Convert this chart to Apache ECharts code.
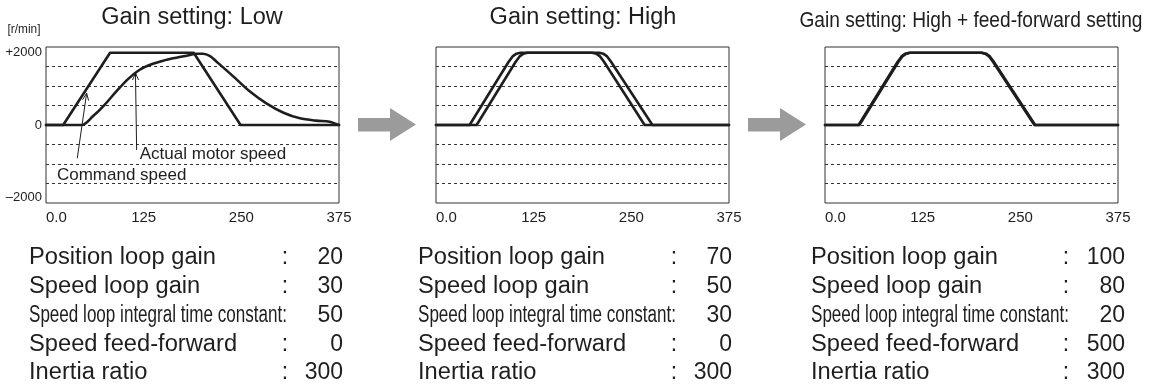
<!DOCTYPE html>
<html>
<head>
<meta charset="utf-8">
<script src="https://cdn.jsdelivr.net/npm/echarts@6.0.0/dist/echarts.min.js"></script>
<style>
  html, body { margin: 0; padding: 0; background: #fff; }
  #main { width: 1153px; height: 389px; }
</style>
</head>
<body>
<div id="main"></div>
<script>
// ---- axes: time (ms) and motor speed (r/min) ----
const timeTicks = [0, 125, 250, 375];
const timeTickLabels = ['0.0', '125', '250', '375'];
const speedTicks = [-2000, 0, 2000];
const speedTickLabels = ['\u20132000', '0', '+2000'];
const speedUnit = '[r/min]';

const panelTitles = [
  'Gain setting: Low',
  'Gain setting: High',
  'Gain setting: High + feed-forward setting'
];

// ---- panel 1: low gain ----
const lowCmdT = [0, 22, 82, 189, 249, 375];
const lowCmdV = [0, 0, 2000, 2000, 0, 0];
const lowActT = [0, 45.7, 60, 75, 90, 105, 120, 135, 150, 165, 180, 193, 201, 210, 218, 240, 261, 282, 304, 325, 346, 363, 375];
const lowActV = [0, 0, 240, 560, 930, 1270, 1530, 1680, 1780, 1855, 1920, 1975, 1975, 1910, 1760, 1340, 925, 600, 340, 185, 120, 92, 0];

// ---- panel 2: high gain ----
const highCmdT = [0, 43, 93, 98, 103, 108, 200, 205, 210, 215, 267, 375];
const highCmdV = [0, 0, 1750, 1900, 1975, 2000, 2000, 1975, 1900, 1750, 0, 0];
const highActT = [0, 52, 102, 107, 112, 117, 209, 214, 219, 224, 277, 375];
const highActV = [0, 0, 1750, 1900, 1975, 2000, 2000, 1975, 1900, 1750, 0, 0];

// ---- panel 3: high gain + feed-forward ----
const ffCmdT = [0, 43, 93, 98, 103, 108, 200, 205, 210, 215, 268, 375];
const ffCmdV = [0, 0, 1750, 1900, 1975, 2000, 2000, 1975, 1900, 1750, 0, 0];
const ffActT = [0, 44, 94, 99, 104, 109, 201, 206, 211, 216, 269, 375];
const ffActV = [0, 0, 1750, 1900, 1975, 2000, 2000, 1975, 1900, 1750, 0, 0];

// ---- parameter tables ----
const paramNames = [
  'Position loop gain',
  'Speed loop gain',
  'Speed loop integral time constant:',
  'Speed feed-forward',
  'Inertia ratio'
];
const paramLow = [20, 30, 50, 0, 300];
const paramHigh = [70, 50, 30, 0, 300];
const paramHighFF = [100, 80, 20, 500, 300];

const annotationLabels = ['Command speed', 'Actual motor speed'];

// ---------------------------------------------------------------
const FONT = "'Liberation Sans', Arial, Helvetica, sans-serif";
const INK = '#1e1e1e';

const panels = [
  { left: 46,  cmd: [lowCmdT, lowCmdV],   act: [lowActT, lowActV],   smoothAct: true,  params: paramLow },
  { left: 436, cmd: [highCmdT, highCmdV], act: [highActT, highActV], smoothAct: false, params: paramHigh },
  { left: 825, cmd: [ffCmdT, ffCmdV],     act: [ffActT, ffActV],     smoothAct: false, params: paramHighFF }
];
const GRID_TOP = 47, GRID_W = 293, GRID_H = 156;

const zip = (t, v) => t.map((x, i) => [x, v[i]]);

const grids = [], xAxes = [], yAxes = [], series = [];
panels.forEach((p, i) => {
  grids.push({
    left: p.left, top: GRID_TOP, width: GRID_W, height: GRID_H,
    show: true, borderColor: '#333', borderWidth: 1, backgroundColor: 'transparent',
    containLabel: false, outerBoundsMode: 'none'
  });
  xAxes.push({
    gridIndex: i, type: 'value', min: 0, max: 375,
    axisLine: { show: false, onZero: false },
    axisTick: { show: false },
    splitLine: { show: false },
    axisLabel: {
      customValues: timeTicks,
      formatter: v => timeTickLabels[timeTicks.indexOf(v)],
      fontFamily: FONT, fontSize: 15, color: INK, margin: 7,
      alignMinLabel: 'left'
    }
  });
  yAxes.push({
    gridIndex: i, type: 'value', min: -2160, max: 2160, interval: 540,
    axisLine: { show: false },
    axisTick: { show: false },
    axisLabel: {
      show: i === 0,
      customValues: speedTicks,
      formatter: v => speedTickLabels[speedTicks.indexOf(v)],
      fontFamily: FONT, fontSize: 13, color: INK, margin: 4
    },
    splitLine: {
      show: true, showMinLine: false, showMaxLine: false,
      lineStyle: { type: [3, 3], color: '#333', width: 1 }
    }
  });
  const lineBase = {
    type: 'line', xAxisIndex: i, yAxisIndex: i, symbol: 'none', silent: true,
    lineStyle: { color: INK, width: 2.6, join: 'round', cap: 'round' }, z: 3
  };
  series.push(Object.assign({}, lineBase, { name: 'Command speed ' + (i + 1), data: zip(p.cmd[0], p.cmd[1]) }));
  series.push(Object.assign({}, lineBase, {
    name: 'Actual motor speed ' + (i + 1), data: zip(p.act[0], p.act[1]),
    smooth: p.smoothAct ? 0.3 : false
  }));
});

const chart = echarts.init(document.getElementById('main'), null, { renderer: 'canvas' });
chart.setOption({
  animation: false,
  backgroundColor: '#fff',
  grid: grids, xAxis: xAxes, yAxis: yAxes, series: series
});

// ---- texts, arrows and parameter tables ----
const g = [];
function text(str, x, y, opts) {
  opts = opts || {};
  g.push({
    type: 'text', x: x, y: y, scaleX: opts.sx || 1, scaleY: 1, silent: true,
    style: {
      text: str, x: 0, y: 0, fill: opts.color || INK,
      font: (opts.size || 20) + 'px ' + FONT,
      textAlign: opts.align || 'left', textVerticalAlign: 'middle'
    }
  });
}

// panel titles
text(panelTitles[0], 192, 18, { size: 23.5, align: 'center' });
text(panelTitles[1], 583, 18, { size: 23.5, align: 'center' });
text(panelTitles[2], 971, 21, { size: 21.5, align: 'center', sx: 0.89 });

// speed unit
text(speedUnit, 24, 30, { size: 12.5, align: 'center', sx: 0.95 });

// grey transition arrows between the panels
[358, 748].forEach(x0 => {
  g.push({
    type: 'polygon', silent: true,
    shape: { points: [[x0, 118], [x0 + 32, 118], [x0 + 32, 108], [x0 + 58, 124.5], [x0 + 32, 141], [x0 + 32, 131.5], [x0, 131.5]] },
    style: { fill: '#9b9b9b' }
  });
});

// call-outs in the low-gain panel, anchored in data units
function px(pt) { return chart.convertToPixel({ gridIndex: 0 }, pt); }
function callout(from, to) {
  const a = px(from), b = px(to);
  const dx = b[0] - a[0], dy = b[1] - a[1], L = Math.hypot(dx, dy);
  const ux = dx / L, uy = dy / L, len = 7, half = 3;
  const l = [b[0] - ux * len - uy * half, b[1] - uy * len + ux * half];
  const r = [b[0] - ux * len + uy * half, b[1] - uy * len - ux * half];
  g.push({ type: 'line', silent: true, shape: { x1: a[0], y1: a[1], x2: b[0], y2: b[1] }, style: { stroke: INK, lineWidth: 1 } });
  g.push({ type: 'polyline', silent: true, shape: { points: [l, b, r] }, style: { stroke: INK, lineWidth: 1, fill: null } });
}
callout([40, -922], [52, 880]);
callout([116, -692], [114.5, 1440]);
const cmdLabelPos = px([14, -1385]);
const actLabelPos = px([120, -803]);
text(annotationLabels[0], cmdLabelPos[0], cmdLabelPos[1], { size: 17 });
text(annotationLabels[1], actLabelPos[0], actLabelPos[1], { size: 17 });

// parameter tables below each panel
const tableCols = [
  { name: 29, colon: 285, value: 343 },
  { name: 418, colon: 674, value: 732 },
  { name: 811, colon: 1066, value: 1125 }
];
const rowY = [258, 287, 316, 344.5, 373];
panels.forEach((p, i) => {
  const c = tableCols[i];
  paramNames.forEach((name, r) => {
    if (r === 2) {
      text(name, c.name, rowY[r], { size: 23, sx: 0.742 });
    } else {
      text(name, c.name, rowY[r], { size: 23, sx: 1.03 });
      text(':', c.colon, rowY[r], { size: 23, align: 'center' });
    }
    text(String(p.params[r]), c.value, rowY[r], { size: 23, align: 'right' });
  });
});

chart.setOption({ graphic: g });
</script>
</body>
</html>
